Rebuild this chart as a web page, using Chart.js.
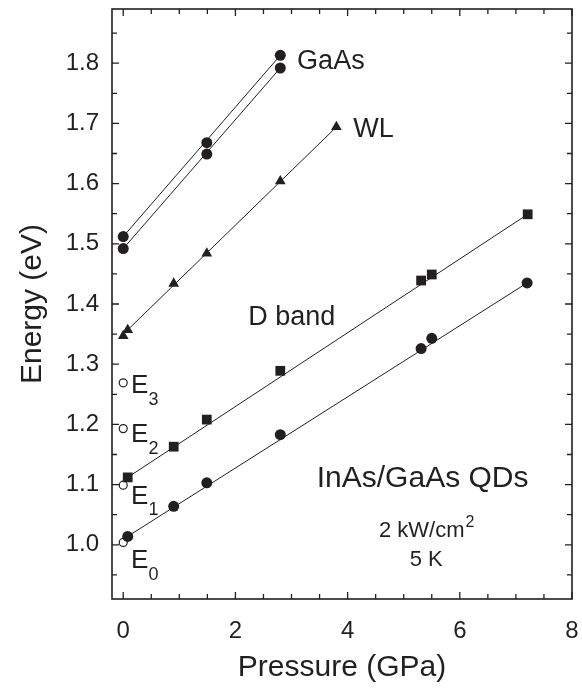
<!DOCTYPE html>
<html>
<head>
<meta charset="utf-8">
<script src="https://cdn.jsdelivr.net/npm/chart.js@4.4.0/dist/chart.umd.min.js"></script>
<style>
  html, body { margin: 0; padding: 0; background: #fff; }
  #wrap { width: 582px; height: 689px; }
</style>
</head>
<body>
<div id="wrap"><canvas id="chart" width="582" height="689"></canvas></div>
<script>
// values (pressure in GPa, energy in eV)
const gaasUpperX = [0, 1.49, 2.8];
const gaasUpperY = [1.512, 1.668, 1.813];
const gaasLowerX = [0, 1.49, 2.8];
const gaasLowerY = [1.492, 1.649, 1.792];
const wlX = [0, 0.08, 0.9, 1.49, 2.8, 3.8];
const wlY = [1.347, 1.357, 1.434, 1.484, 1.604, 1.694];
const dBandX = [0.08, 0.9, 1.49, 2.8, 5.31, 5.5, 7.21];
const dBandY = [1.112, 1.163, 1.208, 1.289, 1.439, 1.449, 1.549];
const qdX = [0.08, 0.9, 1.49, 2.8, 5.31, 5.5, 7.2];
const qdY = [1.014, 1.064, 1.103, 1.183, 1.326, 1.343, 1.435];
const levelX = [0, 0, 0, 0];
const levelY = [1.004, 1.099, 1.193, 1.269];
const levelNames = ['0', '1', '2', '3'];

// straight fit lines (start / end)
const gaasUpperFitX = [0, 2.8];
const gaasUpperFitY = [1.512, 1.813];
const gaasLowerFitX = [0, 2.8];
const gaasLowerFitY = [1.492, 1.792];
const wlFitX = [0.08, 3.8];
const wlFitY = [1.357, 1.694];
const dBandFitX = [0.08, 7.21];
const dBandFitY = [1.112, 1.549];
const qdFitX = [0.08, 7.2];
const qdFitY = [1.014, 1.435];

const xTicks = [0, 2, 4, 6, 8];
const yTicks = [1.0, 1.1, 1.2, 1.3, 1.4, 1.5, 1.6, 1.7, 1.8];

const ink = '#231f20';
const FONT = '"Liberation Sans", Arial, Helvetica, sans-serif';

const pts = (xs, ys) => xs.map((x, i) => ({ x: x, y: ys[i] }));

function markers(xs, ys, style, r, fill) {
    return {
        data: pts(xs, ys),
        pointStyle: style,
        pointRadius: r,
        pointBackgroundColor: fill || ink,
        pointBorderColor: ink,
        pointBorderWidth: fill ? 1.2 : 0,
        showLine: false,
        order: 1
    };
}

function fitLine(xs, ys) {
    return {
        data: pts(xs, ys),
        showLine: true,
        borderColor: ink,
        borderWidth: 1,
        pointRadius: 0,
        order: 2
    };
}

// free text on the plot, anchored in data coordinates
const labels = [
    { text: 'GaAs', x: 3.1, y: 1.803, size: 27 },
    { text: 'WL', x: 4.1, y: 1.69, size: 27 },
    { text: 'D band', x: 2.23, y: 1.378, size: 27 },
    { text: 'InAs/GaAs QDs', x: 3.45, y: 1.11, size: 30 }
];
const levelLabelX = 0.14;
const levelLabelY = [0.973, 1.0805, 1.183, 1.264];

const textPlugin = {
    id: 'textPlugin',
    afterDatasetsDraw(chart) {
        const { ctx, scales: { x, y } } = chart;
        ctx.save();
        ctx.fillStyle = ink;
        ctx.textBaseline = 'middle';
        ctx.textAlign = 'left';
        labels.forEach(l => {
            ctx.font = l.size + 'px ' + FONT;
            ctx.fillText(l.text, x.getPixelForValue(l.x), y.getPixelForValue(l.y));
        });
        levelNames.forEach((n, i) => {
            const px = x.getPixelForValue(levelLabelX);
            const py = y.getPixelForValue(levelLabelY[i]);
            ctx.font = '26px ' + FONT;
            ctx.fillText('E', px, py);
            const w = ctx.measureText('E').width;
            ctx.font = '18px ' + FONT;
            ctx.fillText(n, px + w, py + 14);
        });
        // conditions
        const cx = x.getPixelForValue(5.4);
        ctx.font = '22px ' + FONT;
        const main = '2 kW/cm';
        const mw = ctx.measureText(main).width;
        ctx.font = '16px ' + FONT;
        const sw = ctx.measureText('2').width;
        const y1 = y.getPixelForValue(1.0226);
        ctx.font = '22px ' + FONT;
        ctx.fillText(main, cx - (mw + sw) / 2, y1);
        ctx.font = '16px ' + FONT;
        ctx.fillText('2', cx - (mw + sw) / 2 + mw + 1, y1 - 9);
        ctx.textAlign = 'center';
        ctx.font = '22px ' + FONT;
        ctx.fillText('5 K', cx, y.getPixelForValue(0.975));
        ctx.restore();
    }
};

// closed frame with inward ticks on all four sides
const framePlugin = {
    id: 'framePlugin',
    afterDraw(chart) {
        const { ctx, chartArea: a, scales: { x, y } } = chart;
        ctx.save();
        ctx.strokeStyle = ink;
        ctx.lineWidth = 1.3;
        ctx.beginPath();
        for (let v = 0; v <= 8.001; v += 0.5) {
            const px = x.getPixelForValue(v);
            const len = Math.abs(v / 2 - Math.round(v / 2)) < 1e-6 ? 7 : 5;
            ctx.moveTo(px, a.bottom); ctx.lineTo(px, a.bottom - len);
            ctx.moveTo(px, a.top); ctx.lineTo(px, a.top + len);
        }
        for (let k = 19; k <= 37; k++) {
            const py = y.getPixelForValue(k * 0.05);
            const len = k % 2 === 0 ? 7 : 5;
            ctx.moveTo(a.left, py); ctx.lineTo(a.left + len, py);
            ctx.moveTo(a.right, py); ctx.lineTo(a.right - len, py);
        }
        ctx.stroke();
        ctx.lineWidth = 1.6;
        ctx.strokeRect(a.left, a.top, a.right - a.left, a.bottom - a.top);
        ctx.restore();
    }
};

// keep the plot box where the figure has it (no extra room for edge labels)
function noEdgePadding(s) {
    s.paddingLeft = 0; s.paddingRight = 0; s.paddingTop = 0; s.paddingBottom = 0;
}

new Chart(document.getElementById('chart'), {
    type: 'scatter',
    data: {
        datasets: [
            markers(gaasUpperX, gaasUpperY, 'circle', 5.5),
            markers(gaasLowerX, gaasLowerY, 'circle', 5.5),
            markers(wlX, wlY, 'triangle', 6.2),
            markers(dBandX, dBandY, 'rect', 6.9),
            markers(qdX, qdY, 'circle', 5.5),
            markers(levelX, levelY, 'circle', 4, '#ffffff'),
            fitLine(gaasUpperFitX, gaasUpperFitY),
            fitLine(gaasLowerFitX, gaasLowerFitY),
            fitLine(wlFitX, wlFitY),
            fitLine(dBandFitX, dBandFitY),
            fitLine(qdFitX, qdFitY)
        ]
    },
    options: {
        responsive: false,
        animation: false,
        devicePixelRatio: 1,
        layout: { padding: { top: 9, right: 10, left: 0, bottom: 0 } },
        plugins: { legend: { display: false }, tooltip: { enabled: false } },
        scales: {
            x: {
                type: 'linear',
                min: -0.2,
                max: 8,
                afterFit: s => { s.height = 90; noEdgePadding(s); },
                afterBuildTicks: s => { s.ticks = xTicks.map(v => ({ value: v })); },
                grid: { display: false, drawTicks: false },
                border: { display: false },
                ticks: { color: ink, font: { family: FONT, size: 24 }, padding: 18, maxRotation: 0 },
                title: { display: true, text: 'Pressure (GPa)', color: ink, font: { family: FONT, size: 30, lineHeight: 1.2 }, padding: { top: 0, bottom: 3 } }
            },
            y: {
                type: 'linear',
                min: 0.91,
                max: 1.89,
                afterFit: s => { s.width = 112; noEdgePadding(s); },
                afterBuildTicks: s => { s.ticks = yTicks.map(v => ({ value: v })); },
                grid: { display: false, drawTicks: false },
                border: { display: false },
                ticks: { color: ink, font: { family: FONT, size: 24 }, padding: 13, callback: v => v.toFixed(1) },
                title: { display: true, text: 'Energy (eV)', color: ink, font: { family: FONT, size: 30, lineHeight: 1.2 }, padding: { top: 15, bottom: 0 } }
            }
        }
    },
    plugins: [textPlugin, framePlugin]
});
</script>
</body>
</html>
